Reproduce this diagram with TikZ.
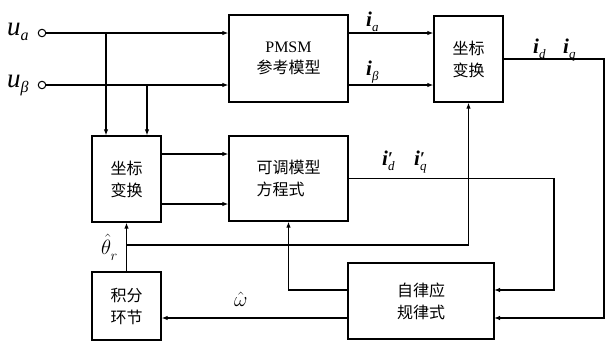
\documentclass[tikz,border=0pt]{standalone}
\usepackage{fontspec}
\setmainfont{Liberation Serif}
\newfontfamily\cjk{Noto Sans CJK SC}
\usetikzlibrary{arrows.meta}
\newcommand\mysub[2][13]{\raisebox{-5pt}{\fontsize{#1}{#1}\selectfont\mdseries\itshape #2}}
\newcommand\myprime{\rlap{\raisebox{1pt}{\fontsize{18}{18}\selectfont\bfseries\upshape ′}}}
\begin{document}
\begin{tikzpicture}[x=1pt,y=-1pt,
  box/.style={draw, line width=1.25pt, inner sep=0pt, align=center,
    font=\cjk\fontsize{16}{22}\selectfont},
  arr/.style={line width=1.25pt, -{Latex[length=6pt,width=4.5pt]}},
  term/.style={draw, circle, line width=1pt, minimum size=7.5pt, inner sep=0pt},
  lbl/.style={inner sep=0pt, anchor=base west},
  ilbl/.style={lbl, font=\fontsize{21}{21}\selectfont\bfseries\itshape}]
\useasboundingbox (0,0) rectangle (606,341);

% boxes
\node[box, minimum width=119pt, minimum height=87pt] (pmsm) at (288.5,58.5)
  {{\rmfamily\fontsize{16}{20}\selectfont PMSM}\\[-1pt]参考模型};
\node[box, minimum width=69pt, minimum height=86pt] (ct1) at (468.5,59) {坐标\\变换};
\node[box, minimum width=69pt, minimum height=86pt] (ct2) at (126.5,179) {坐标\\变换};
\node[box, minimum width=119pt, minimum height=85pt, align=left] (adj) at (288.5,178.5) {可调模型\\方程式};
\node[box, minimum width=69pt, minimum height=68pt] (integ) at (126.5,306) {积分\\环节};
\node[box, minimum width=146pt, minimum height=76pt] (adapt) at (421,301) {自律应\\规律式};

% input terminals
\node[term] (ua) at (42,33) {};
\node[term] (ub) at (42,85) {};

% coordinates
\coordinate (b1) at (106,33);
\coordinate (b2) at (147,85);
\coordinate (c1) at (161,154);
\coordinate (c2) at (161,204);
\coordinate (k1) at (604,59);
\coordinate (k2) at (554,178.5);
\coordinate (aIn1) at (494,290);
\coordinate (aIn2) at (494,318);
\coordinate (th) at (126.5,245);

% connectors
\draw[arr] (ua) -- (ua -| pmsm.west);
\draw[arr] (ub) -- (ub -| pmsm.west);
\draw[arr] (b1) -- (b1 |- ct2.north);
\draw[arr] (b2) -- (b2 |- ct2.north);
\draw[arr] (ua -| pmsm.east) -- (ua -| ct1.west);
\draw[arr] (ub -| pmsm.east) -- (ub -| ct1.west);
\draw[arr] (c1) -- (c1 -| adj.west);
\draw[arr] (c2) -- (c2 -| adj.west);
\draw[arr] (ct1.east) -- (k1) |- (aIn2);
\draw[arr] (adj.east) -- (k2) |- (aIn1);
\draw[arr] (aIn1 -| adapt.west) -| (adj.south);
\draw[arr] (aIn2 -| adapt.west) -- (aIn2 -| integ.east);
\draw[arr] (integ.north) -- (ct2.south);
\draw[arr] (th) -| (ct1.south);

% labels
\node[lbl] (lua) at (7,35) {\fontsize{27}{27}\selectfont\itshape u\mysub[16]{a}};
\node[lbl] (lub) at (7,87) {\fontsize{27}{27}\selectfont\itshape u\mysub[16]{β}};
\node[ilbl] (lia) at (366,26) {i\mysub{a}};
\node[ilbl] (lib) at (366,75) {i\mysub{β}};
\node[ilbl] (lid) at (533,53) {i\mysub{d}};
\node[ilbl] (liq) at (563,53) {i\mysub{q}};
\node[ilbl] (lidp) at (382,165) {i\myprime\mysub{d}};
\node[ilbl] (liqp) at (414,165) {i\myprime\mysub{q}};
\node[lbl] (lth) at (101,254) {\fontsize{21}{21}\selectfont$\hat{\theta}_{\raisebox{-3pt}{$\scriptstyle r$}}$};
\node[lbl] (lom) at (234,306) {\fontsize{21}{21}\selectfont$\hat{\omega}$};
\end{tikzpicture}
\end{document}
